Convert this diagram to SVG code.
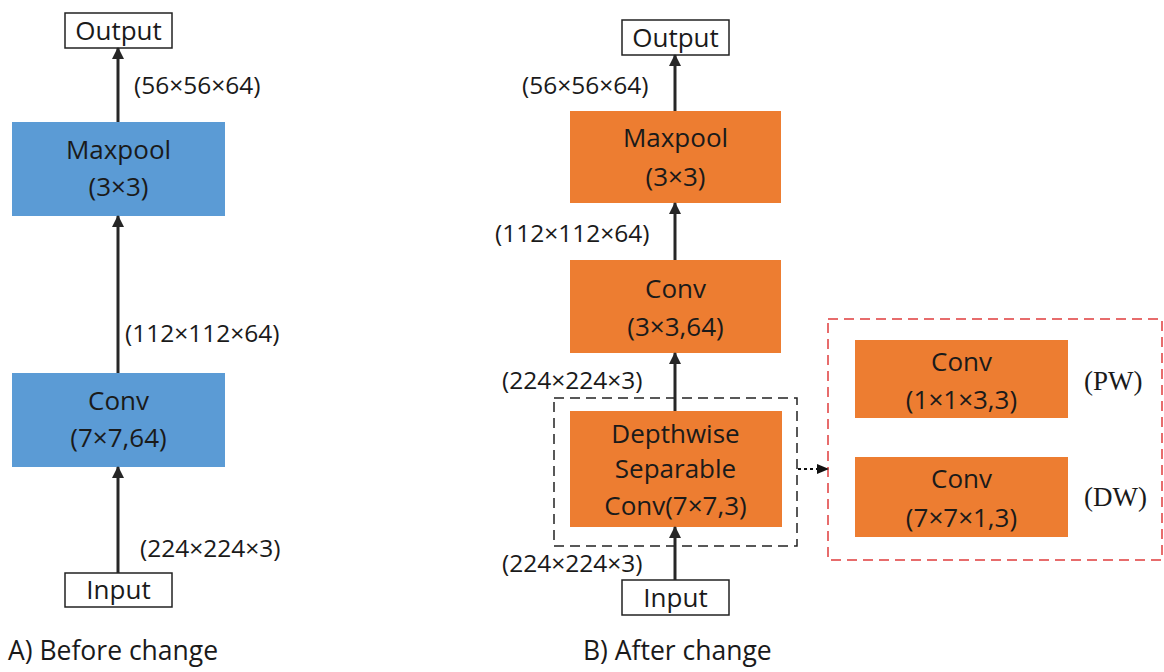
<svg xmlns="http://www.w3.org/2000/svg" width="1164" height="672" viewBox="0 0 1164 672">
  <defs>
    <marker id="arrow" markerWidth="12" markerHeight="12" refX="11" refY="6" orient="auto" markerUnits="userSpaceOnUse">
      <path d="M0,0 L12,6 L0,12 Z" fill="#262626"/>
    </marker>
    <marker id="arrowSmall" markerWidth="12" markerHeight="12" refX="11" refY="6" orient="auto" markerUnits="userSpaceOnUse">
      <path d="M0,1 L12,6 L0,11 Z" fill="#111"/>
    </marker>
    <style>
      text { font-family: "Open Sans", "Noto Sans", sans-serif; fill: #1a1a1a; }
      .lbl { font-size: 24.5px; }
      .node { font-size: 26px; text-anchor: middle; }
      .cap { font-size: 26.5px; }
      .serif { font-family: "Liberation Serif", "Times New Roman", serif; font-size: 27px; }
      .io { fill: #fff; stroke: #222; stroke-width: 1.5; }
      .blue { fill: #5b9bd5; }
      .orange { fill: #ed7d31; }
      .edge { stroke: #262626; stroke-width: 3; fill: none; marker-end: url(#arrow); }
    </style>
  </defs>
  <rect width="1164" height="672" fill="#fff"/>

  <!-- Panel A: before change -->
  <g id="a-output">
    <rect class="io" x="65" y="13" width="107" height="35"/>
    <text class="node" x="118.5" y="40">Output</text>
  </g>
  <g id="a-maxpool">
    <rect class="blue" x="12" y="122" width="213" height="94"/>
    <text class="node" x="118.5" y="159">Maxpool</text>
    <text class="node" x="118.5" y="196">(3×3)</text>
  </g>
  <g id="a-conv">
    <rect class="blue" x="12" y="373" width="213" height="94"/>
    <text class="node" x="118.5" y="410">Conv</text>
    <text class="node" x="118.5" y="447">(7×7,64)</text>
  </g>
  <g id="a-input">
    <rect class="io" x="65" y="573" width="107" height="34"/>
    <text class="node" x="118.5" y="599">Input</text>
  </g>

  <!-- Panel B: after change -->
  <g id="b-output">
    <rect class="io" x="622" y="20" width="107" height="35"/>
    <text class="node" x="675.5" y="47">Output</text>
  </g>
  <g id="b-maxpool">
    <rect class="orange" x="570" y="111" width="211" height="92"/>
    <text class="node" x="675.5" y="147">Maxpool</text>
    <text class="node" x="675.5" y="186">(3×3)</text>
  </g>
  <g id="b-conv">
    <rect class="orange" x="570" y="260" width="211" height="93"/>
    <text class="node" x="675.5" y="298">Conv</text>
    <text class="node" x="675.5" y="336">(3×3,64)</text>
  </g>
  <g id="b-dsconv">
    <rect x="554" y="398" width="243" height="148" fill="none" stroke="#222" stroke-width="1.5" stroke-dasharray="10,6"/>
    <rect class="orange" x="570" y="411" width="212" height="116"/>
    <text class="node" x="675.5" y="443">Depthwise</text>
    <text class="node" x="675.5" y="478">Separable</text>
    <text class="node" x="675.5" y="515">Conv(7×7,3)</text>
  </g>
  <g id="b-input">
    <rect class="io" x="622" y="580" width="107" height="35"/>
    <text class="node" x="675.5" y="607">Input</text>
  </g>

  <!-- Expanded depthwise separable convolution -->
  <g id="b-expanded">
    <rect x="828" y="319" width="334" height="241" fill="none" stroke="#e03c3c" stroke-width="1.5" stroke-dasharray="10,6"/>
  </g>
  <g id="b-pw">
    <rect class="orange" x="855" y="340" width="213" height="78"/>
    <text class="node" x="961.5" y="371">Conv</text>
    <text class="node" x="961.5" y="409">(1×1×3,3)</text>
    <text class="serif" x="1084" y="390">(PW)</text>
  </g>
  <g id="b-dw">
    <rect class="orange" x="855" y="457" width="213" height="80"/>
    <text class="node" x="961.5" y="488">Conv</text>
    <text class="node" x="961.5" y="527">(7×7×1,3)</text>
    <text class="serif" x="1084" y="506">(DW)</text>
  </g>

  <!-- Connectors -->
  <g id="connectors">
    <line class="edge" x1="118" y1="122" x2="118" y2="48"/>
    <line class="edge" x1="118" y1="373" x2="118" y2="216"/>
    <line class="edge" x1="118" y1="573" x2="118" y2="467"/>
    <line class="edge" x1="675" y1="111" x2="675" y2="55"/>
    <line class="edge" x1="675" y1="260" x2="675" y2="203"/>
    <line class="edge" x1="675" y1="411" x2="675" y2="353"/>
    <line class="edge" x1="675" y1="580" x2="675" y2="527"/>
    <line x1="798" y1="469" x2="828" y2="469" stroke="#111" stroke-width="2" stroke-dasharray="3,3" marker-end="url(#arrowSmall)"/>
  </g>

  <!-- Tensor shape labels -->
  <g id="labels">
    <text class="lbl" x="134" y="94">(56×56×64)</text>
    <text class="lbl" x="125" y="342">(112×112×64)</text>
    <text class="lbl" x="140" y="557">(224×224×3)</text>
    <text class="lbl" x="522" y="94">(56×56×64)</text>
    <text class="lbl" x="495" y="242">(112×112×64)</text>
    <text class="lbl" x="502" y="389">(224×224×3)</text>
    <text class="lbl" x="502" y="572">(224×224×3)</text>
  </g>

  <!-- Captions -->
  <text class="cap" x="8" y="660">A) Before change</text>
  <text class="cap" x="583" y="660">B) After change</text>
</svg>
